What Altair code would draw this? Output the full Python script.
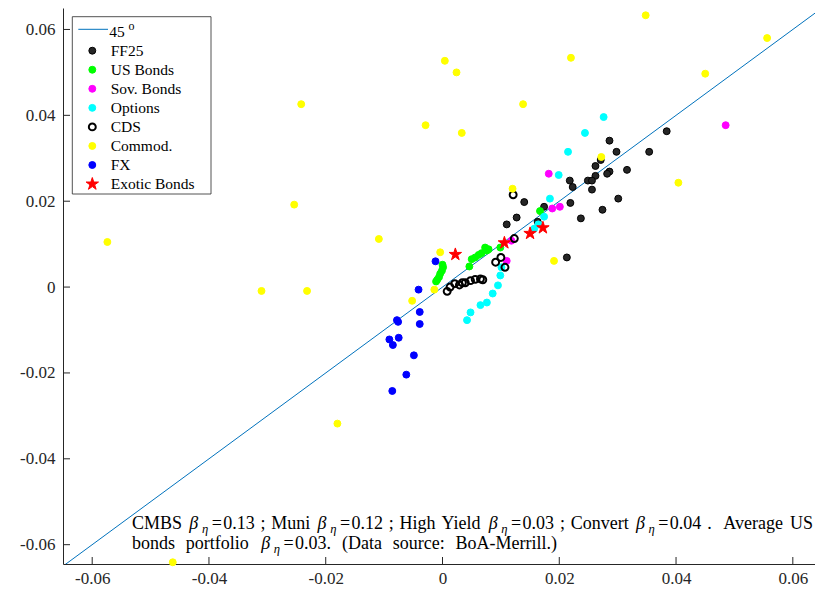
import altair as alt
import pandas as pd

# ---------------- data ----------------
ff25_x = [0.0384, 0.0286, 0.0298, 0.0354, 0.0271, 0.0262, 0.0316, 0.0286, 0.0282, 0.0262, 0.0249, 0.0256, 0.0218,
          0.0223, 0.0256, 0.0140, 0.0219, 0.0301, 0.0174, 0.0274, 0.0127, 0.0237, 0.0110, 0.0163, 0.0213]
ff25_y = [0.0363, 0.0341, 0.0315, 0.0315, 0.0296, 0.0282, 0.0273, 0.0269, 0.0264, 0.0259, 0.0248, 0.0248, 0.0248,
          0.0233, 0.0227, 0.0198, 0.0196, 0.0206, 0.0187, 0.0180, 0.0162, 0.0160, 0.0146, 0.0152, 0.0069]

usb_x = [0.0000, 0.0001, -0.0001, -0.0004, -0.0006, -0.0009, -0.0011, 0.0046, 0.0050, 0.0056, 0.0062, 0.0067,
         0.0073, 0.0076, 0.0079, 0.0099, 0.0167]
usb_y = [0.0052, 0.0046, 0.0038, 0.0031, 0.0023, 0.0017, 0.0013, 0.0048, 0.0065, 0.0069, 0.0075, 0.0079,
         0.0092, 0.0085, 0.0088, 0.0092, 0.0177]

sov_x = [0.0182, 0.0188, 0.0201, 0.0485, 0.0118, 0.0110]
sov_y = [0.0264, 0.0183, 0.0187, 0.0377, 0.0108, 0.0061]

opt_x = [0.0276, 0.0244, 0.0215, 0.0199, 0.0184, 0.0174, 0.0164, 0.0157, 0.0101, 0.0099, 0.0095, 0.0086,
         0.0076, 0.0065, 0.0048, 0.0042]
opt_y = [0.0396, 0.0359, 0.0315, 0.0261, 0.0206, 0.0164, 0.0146, 0.0136, 0.0046, 0.0027, 0.0004, -0.0015,
         -0.0036, -0.0042, -0.0059, -0.0077]

cds_x = [0.0008, 0.0013, 0.0021, 0.0029, 0.0034, 0.0039, 0.0048, 0.0056, 0.0065, 0.0069, 0.0091, 0.0100,
         0.0107, 0.0123, 0.0121]
cds_y = [-0.0010, 0.0000, 0.0008, 0.0005, 0.0010, 0.0010, 0.0015, 0.0018, 0.0019, 0.0017, 0.0058, 0.0069,
         0.0046, 0.0113, 0.0215]

com_x = [0.0348, 0.0556, 0.0004, 0.0024, 0.0220, -0.0242, 0.0138, -0.0029, 0.0033, 0.0450, -0.0254, -0.0109,
         -0.0574, -0.0310, -0.0232, 0.0404, 0.0120, 0.0191, 0.0272, -0.0180, -0.0462, -0.0004, -0.0014, -0.0052]
com_y = [0.0633, 0.0580, 0.0527, 0.0500, 0.0534, 0.0426, 0.0426, 0.0377, 0.0359, 0.0497, 0.0192, 0.0112,
         0.0105, -0.0009, -0.0009, 0.0243, 0.0229, 0.0061, 0.0303, -0.0318, -0.0641, 0.0081, -0.0006, -0.0032]

fx_x = [-0.0012, -0.0041, -0.0039, -0.0039, -0.0078, -0.0076, -0.0075, -0.0091, -0.0085, -0.0049, -0.0062, -0.0086]
fx_y = [0.0060, -0.0006, -0.0058, -0.0086, -0.0077, -0.0081, -0.0118, -0.0122, -0.0135, -0.0159, -0.0204, -0.0242]

exo_x = [0.0022, 0.0106, 0.0150, 0.0172]
exo_y = [0.0076, 0.0103, 0.0125, 0.0138]

series_names = ["FF25", "US Bonds", "Sov. Bonds", "Options", "CDS", "Commod.", "FX", "Exotic Bonds"]
diag = [-0.07, 0.07]
tick_vals = [-0.06, -0.04, -0.02, 0, 0.02, 0.04, 0.06]
line_label = "45"

# annotation words; "B" marks a beta with subscript eta, "=v" an equals sign followed by value
note_line1 = ["CMBS", "B", "=0.13", ";", "Muni", "B", "=0.12", ";", "High", "Yield", "B", "=0.03", ";",
              "Convert", "B", "=0.04", ".", "", "Average", "US"]
note_line2 = ["bonds", "portfolio", "B", "=0.03.", "(Data", "source:", "BoA-Merrill.)"]

# ---------------- style ----------------
fills = ["#262626", "#00ff00", "#ff00ff", "#00ffff", "transparent", "#ffff00", "#0000ff", "#ff0000"]
strokes = ["#000000", "#00ff00", "#ff00ff", "#00ffff", "#000000", "#ffff00", "#0000ff", "#ff0000"]
STAR = ("M0,-1L0.2245,-0.309L0.951,-0.309L0.363,0.118L0.588,0.809L0,0.382L-0.588,0.809"
        "L-0.363,0.118L-0.951,-0.309L-0.2245,-0.309Z")
FONT = "Liberation Serif"
AX = "#262626"
W, H = 752, 556

# ---------------- annotation layout (Times metrics, Liberation Serif is metric compatible) ----------------
TW = {" ": 250, ";": 278, ".": 250, ":": 278, "=": 564, "-": 333, "(": 333, ")": 333,
      "A": 722, "B": 667, "C": 667, "D": 722, "H": 722, "M": 889, "S": 556, "U": 722, "Y": 722,
      "a": 444, "b": 500, "c": 444, "d": 500, "e": 444, "f": 333, "g": 500, "h": 500, "i": 278, "l": 278,
      "n": 500, "o": 500, "p": 500, "r": 333, "s": 389, "t": 278, "u": 500, "v": 500,
      "\u03b2": 560, "\u03b7": 500}


def tw(s, fs):
    return sum(TW.get(ch, 500) for ch in s) * fs / 1000.0


def layout(words, x0, base, fs, target=None, space_em=0.3):
    """Return list of (text, x, y, size, italic) pieces for one line."""
    def pieces(extra):
        out, x = [], x0
        for k, w in enumerate(words):
            if k > 0 and not w.startswith("="):
                x += space_em * fs + extra
            if w == "B":
                x += 1.5
                out.append(("\u03b2", x, base, fs, True))
                x += tw("\u03b2", fs) + 2.5
                out.append(("\u03b7", x, base + 4, fs * 0.7, True))
                x += tw("\u03b7", fs * 0.7) + 2
            elif w.startswith("="):
                x += 0.08 * fs
                out.append(("=", x, base, fs, False))
                x += tw("=", fs) + 0.08 * fs
                out.append((w[1:], x, base, fs, False))
                x += tw(w[1:], fs)
            elif w:
                out.append((w, x, base, fs, False))
                x += tw(w, fs)
        return out, x
    res, xend = pieces(0.0)
    if target is not None:
        nsp = sum(1 for k, w in enumerate(words) if k > 0 and not w.startswith("="))
        extra = max(0.0, (x0 + target - xend) / nsp)
        res, _ = pieces(extra)
    return res


NFS = 18
note_pieces = layout(note_line1, 69, 520.5, NFS, target=681) + layout(note_line2, 69, 541, NFS, target=425)
note_df = pd.DataFrame(note_pieces, columns=["txt", "px", "py", "fs", "it"])

# ---------------- chart ----------------
pts = pd.concat([
    pd.DataFrame({"series": name, "x": xs, "y": ys})
    for name, xs, ys in [
        ("FF25", ff25_x, ff25_y), ("US Bonds", usb_x, usb_y), ("Sov. Bonds", sov_x, sov_y),
        ("Options", opt_x, opt_y), ("CDS", cds_x, cds_y), ("Commod.", com_x, com_y),
        ("FX", fx_x, fx_y), ("Exotic Bonds", exo_x, exo_y)]
], ignore_index=True)
pts["order"] = range(len(pts))

xscale = alt.Scale(domain=[-0.065, 0.0638], nice=False, zero=False)
yscale = alt.Scale(domain=[-0.0645, 0.065], nice=False, zero=False)
lab = "datum.value == 0 ? '0' : (datum.value < 0 ? '-' : '') + format(abs(datum.value), '.2f')"
xaxis = alt.Axis(values=tick_vals, labelExpr=lab, title=None, grid=False, ticks=False,
                 labelFont=FONT, labelFontSize=17, labelPadding=6, labelColor=AX)
yaxis = alt.Axis(values=tick_vals, labelExpr=lab, title=None, grid=False, ticks=False,
                 labelFont=FONT, labelFontSize=17, labelPadding=8, labelColor=AX)

fill_enc = alt.Fill("series:N", scale=alt.Scale(domain=series_names, range=fills), legend=None)
stroke_enc = alt.Stroke("series:N", scale=alt.Scale(domain=series_names, range=strokes), legend=None)
is_star = "datum.series == 'Exotic Bonds'"
is_cds = "datum.series == 'CDS'"

line45 = alt.Chart(pd.DataFrame({"x": diag, "y": diag})).mark_line(
    color="#0072BD", strokeWidth=1, clip=True).encode(
    x=alt.X("x:Q", scale=xscale, axis=xaxis), y=alt.Y("y:Q", scale=yscale, axis=yaxis))

points = alt.Chart(pts).mark_point(opacity=1).encode(
    x=alt.X("x:Q", scale=xscale, axis=xaxis),
    y=alt.Y("y:Q", scale=yscale, axis=yaxis),
    fill=fill_enc, stroke=stroke_enc,
    shape=alt.condition(is_star, alt.value(STAR), alt.value("circle")),
    size=alt.condition(is_star, alt.value(170), alt.value(48)),
    strokeWidth=alt.condition(is_cds, alt.value(2), alt.value(1)),
    order=alt.Order("order:Q"),
)

ticks_df = pd.DataFrame({"t": tick_vals})
xticks = alt.Chart(ticks_df).mark_rule(color=AX, strokeWidth=1).encode(
    x=alt.X("t:Q", scale=xscale, axis=xaxis), y=alt.value(H), y2=alt.value(H - 7))
yticks = alt.Chart(ticks_df).mark_rule(color=AX, strokeWidth=1).encode(
    y=alt.Y("t:Q", scale=yscale, axis=yaxis), x=alt.value(0), x2=alt.value(7))

one = pd.DataFrame({"a": [0]})
box = alt.Chart(one).mark_rect(fill="white", stroke=AX, strokeWidth=0.8).encode(
    x=alt.value(9.3), x2=alt.value(148), y=alt.value(8.7), y2=alt.value(186))
leg_line = alt.Chart(one).mark_rule(color="#0072BD", strokeWidth=1).encode(
    x=alt.value(15.3), x2=alt.value(45), y=alt.value(21.3))
leg_45 = alt.Chart(one).mark_text(align="left", baseline="middle", font=FONT, fontSize=15.5,
                                  color="black").encode(
    x=alt.value(46.3), y=alt.value(23.5), text=alt.value(line_label))
leg_o = alt.Chart(one).mark_text(align="left", baseline="middle", font=FONT, fontSize=12,
                                 color="black").encode(
    x=alt.value(65.5), y=alt.value(17.5), text=alt.value("o"))

leg_df = pd.DataFrame({"series": series_names, "row": list(range(len(series_names)))})
leg_sym = alt.Chart(leg_df).transform_calculate(ly="42.7 + datum.row * 19.05").mark_point(opacity=1).encode(
    x=alt.value(29.3), y=alt.Y("ly:Q", scale=None, axis=None),
    fill=fill_enc, stroke=stroke_enc,
    shape=alt.condition(is_star, alt.value(STAR), alt.value("circle")),
    size=alt.condition(is_star, alt.value(170), alt.value(48)),
    strokeWidth=alt.condition(is_cds, alt.value(2), alt.value(1)),
)
leg_txt = alt.Chart(leg_df).transform_calculate(ly="42.7 + datum.row * 19.05").mark_text(
    align="left", baseline="middle", font=FONT, fontSize=15.5, color="black").encode(
    x=alt.value(47.7), y=alt.Y("ly:Q", scale=None, axis=None), text="series:N")


def note_layer(italic):
    base = alt.Chart(note_df).transform_filter(
        "datum.it" if italic else "!datum.it").mark_text(
        align="left", baseline="alphabetic", font=FONT, color="black",
        fontStyle="italic" if italic else "normal")
    return base.encode(
        x=alt.X("px:Q", scale=None, axis=None), y=alt.Y("py:Q", scale=None, axis=None),
        size=alt.Size("fs:Q", scale=None, legend=None), text="txt:N")


chart = alt.layer(
    line45, points, xticks, yticks, box, leg_line, leg_45, leg_o, leg_sym, leg_txt,
    note_layer(False), note_layer(True)
).properties(
    width=W, height=H,
    autosize=alt.AutoSizeParams(type="none"),
    padding={"left": 55, "top": 0, "right": 0, "bottom": 22},
).configure_view(stroke=None).configure_axis(
    domainColor=AX, domainWidth=1, labelColor=AX, labelFont=FONT, labelFontSize=17,
)

chart.save("out.html", embed_options={"renderer": "svg", "actions": False})
